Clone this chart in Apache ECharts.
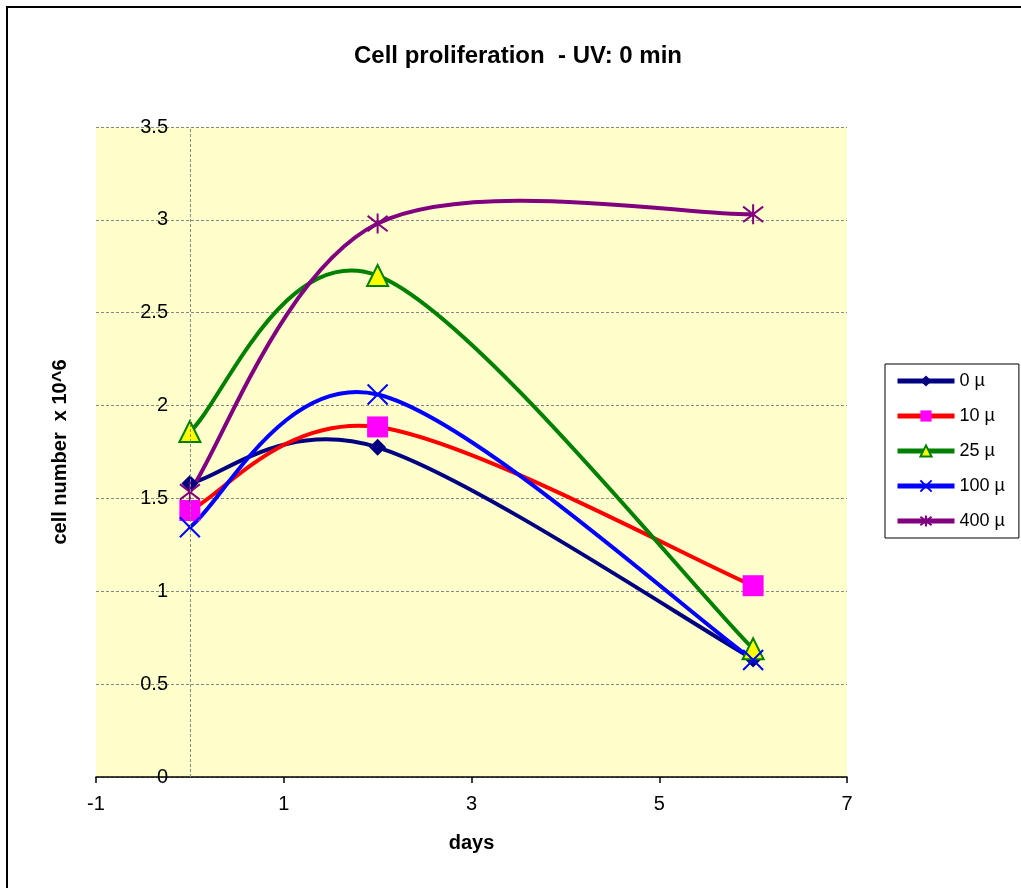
<!DOCTYPE html>
<html><head><meta charset="utf-8">
<script src="https://cdn.jsdelivr.net/npm/echarts@6/dist/echarts.min.js"></script>
<style>html,body{margin:0;padding:0;background:#fff}#c{width:1021px;height:888px}</style>
</head><body><div id="c"></div>
<script>
const days = [0, 2, 6];
const s0 = [1.58, 1.775, 0.635];
const s10 = [1.435, 1.885, 1.03];
const s25 = [1.86, 2.70, 0.69];
const s100 = [1.345, 2.06, 0.63];
const s400 = [1.535, 2.98, 3.03];
const names = ['0 µ', '10 µ', '25 µ', '100 µ', '400 µ'];
const xTicks = [-1, 1, 3, 5, 7];

const pair = a => a.map((v, i) => [days[i], v]);
const font = 'Liberation Sans, Arial, sans-serif';
const colors = ['#000080', '#FF0000', '#008000', '#0000FF', '#800080'];

function markerSeries(name, data, lineColor, symbol, size, itemStyle) {
  return {
    name, type: 'line', data: pair(data),
    symbol, symbolSize: size,
    lineStyle: { color: lineColor, width: 4, opacity: 0 },
    itemStyle, z: 4
  };
}

// Smooth curve (Excel-like Catmull-Rom) drawn through the axis scales
function curveSeries(name, data, color) {
  return {
    name, type: 'custom', data: pair(data), z: 3,
    encode: { x: 0, y: 1 },
    renderItem(params, api) {
      if (params.dataIndex !== 0) return;
      const P = data.map((v, i) => api.coord([days[i], v]));
      const n = P.length;
      const g = i => P[Math.max(0, Math.min(n - 1, i))];
      let d = 'M' + P[0][0] + ',' + P[0][1];
      for (let i = 0; i < n - 1; i++) {
        const a = g(i - 1), b = g(i), c = g(i + 1), e = g(i + 2);
        const c1 = [b[0] + (c[0] - a[0]) / 6, b[1] + (c[1] - a[1]) / 6];
        const c2 = [c[0] - (e[0] - b[0]) / 6, c[1] - (e[1] - b[1]) / 6];
        d += 'C' + c1[0] + ',' + c1[1] + ' ' + c2[0] + ',' + c2[1] + ' ' + c[0] + ',' + c[1];
      }
      return { type: 'path', shape: { pathData: d }, style: { stroke: color, lineWidth: 4, fill: null, lineCap: 'round', lineJoin: 'round' } };
    }
  };
}

const chart = echarts.init(document.getElementById('c'), null, { renderer: 'canvas' });
chart.setOption({
  animation: false,
  backgroundColor: '#fff',
  textStyle: { fontFamily: font },
  title: {
    text: 'Cell proliferation  - UV: 0 min', left: 513, top: 39, textAlign: 'center',
    textStyle: { fontSize: 24, fontWeight: 'bold', color: '#000', fontFamily: font }
  },
  graphic: [{
    type: 'rect', shape: { x: 7, y: 7, width: 1040, height: 920 },
    style: { fill: 'none', stroke: '#000', lineWidth: 2 }, silent: true
  }],
  grid: { left: 96, right: 174, top: 127, bottom: 111, show: true, backgroundColor: '#FFFFCC', borderWidth: 0, containLabel: false, outerBoundsMode: 'none' },
  legend: {
    orient: 'vertical', left: 885, top: 364,
    borderColor: '#000', borderWidth: 1, padding: [8, 14, 8, 10],
    itemWidth: 57, itemHeight: 14, itemGap: 17,
    textStyle: { fontSize: 18, color: '#000', fontFamily: font },
    data: names.map((n, i) => ({ name: n, lineStyle: { opacity: 1, width: 5, color: colors[i] } }))
  },
  xAxis: {
    type: 'value', min: -1, max: 7,
    name: 'days', nameLocation: 'middle', nameGap: 56,
    nameTextStyle: { fontSize: 20, fontWeight: 'bold', color: '#000', fontFamily: font },
    axisLine: { onZero: false, lineStyle: { color: '#000', width: 1.5 } },
    axisTick: { show: true, inside: false, length: 6, customValues: xTicks, lineStyle: { color: '#000', width: 1.5 } },
    axisLabel: { customValues: xTicks, fontSize: 20, color: '#000', margin: 17, fontFamily: font },
    splitLine: { show: false }
  },
  yAxis: {
    type: 'value', min: 0, max: 3.5, interval: 0.5,
    name: 'cell number  x 10^6', nameLocation: 'middle', nameGap: 26, nameRotate: 90,
    nameTextStyle: { fontSize: 20, fontWeight: 'bold', color: '#000', fontFamily: font },
    axisLine: { show: false, onZero: false },
    axisTick: { show: false },
    axisLabel: { inside: true, align: 'right', fontSize: 20, color: '#000', margin: 72, fontFamily: font },
    splitLine: { show: true, lineStyle: { color: '#888', width: 1, type: [3, 2] } }
  },
  series: [
    {
      name: 'axis-x0', type: 'line', data: [], z: 1, silent: true,
      markLine: {
        silent: true, symbol: 'none', label: { show: false },
        lineStyle: { color: '#888', width: 1, type: [3, 2] },
        data: [{ xAxis: 0 }]
      }
    },
    markerSeries(names[0], s0, colors[0], 'diamond', 17, { color: '#000080' }),
    markerSeries(names[1], s10, colors[1], 'rect', 21, { color: '#FF00FF' }),
    markerSeries(names[2], s25, colors[2], 'triangle', 21, { color: '#FFFF00', borderColor: '#008000', borderWidth: 2 }),
    markerSeries(names[3], s100, colors[3], 'path://M0,0L10,10M10,0L0,10', 20, { color: '#0000FF', borderColor: '#0000FF', borderWidth: 2 }),
    markerSeries(names[4], s400, colors[4], 'path://M0,0L10,10M10,0L0,10M5,-1.5L5,11.5', 20, { color: '#800080', borderColor: '#800080', borderWidth: 2 }),
    curveSeries(names[0], s0, colors[0]),
    curveSeries(names[1], s10, colors[1]),
    curveSeries(names[2], s25, colors[2]),
    curveSeries(names[3], s100, colors[3]),
    curveSeries(names[4], s400, colors[4])
  ]
});
</script></body></html>
